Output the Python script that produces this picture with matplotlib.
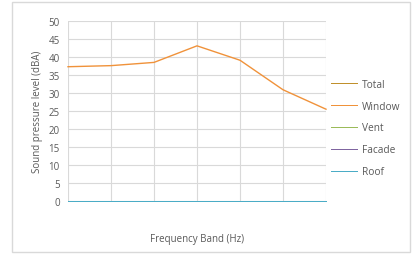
import matplotlib
matplotlib.use("Agg")
import matplotlib.pyplot as plt
from matplotlib.patches import Rectangle

bands = [0, 1, 2, 3, 4, 5, 6]
total = [0, 0, 0, 0, 0, 0, 0]
window = [37.3, 37.6, 38.5, 43.1, 39.1, 30.9, 25.5]
vent = [0, 0, 0, 0, 0, 0, 0]
facade = [0, 0, 0, 0, 0, 0, 0]
roof = [0, 0, 0, 0, 0, 0, 0]
yticks = [0, 5, 10, 15, 20, 25, 30, 35, 40, 45, 50]

plt.rcParams["font.family"] = ["Open Sans", "DejaVu Sans"]
fig = plt.figure(figsize=(4.14, 2.55), dpi=100)
fig.patches.append(Rectangle((12 / 414, 2 / 255), 398 / 414, 250 / 255, transform=fig.transFigure,
                             fill=False, edgecolor="#D9D9D9", linewidth=1))
ax = fig.add_axes([68 / 414, 1 - 202 / 255, 258 / 414, 180 / 255])

series = [("Total", total, "#C0902C"), ("Window", window, "#F0923A"), ("Vent", vent, "#9BBB59"),
          ("Facade", facade, "#7F65A0"), ("Roof", roof, "#4BACC6")]
for i, (name, vals, col) in enumerate(series):
    flat = max(vals) == 0
    ax.plot(bands, vals, color=col, linewidth=0.72 if flat else 1.0, label=name, zorder=3 + i,
            clip_on=False, antialiased=not flat)

ax.set_xlim(0, 6)
ax.set_ylim(0, 50)
ax.set_yticks(yticks)
ax.set_xticks(bands)
ax.set_xticklabels([])
ax.tick_params(length=0, labelsize=7, colors="#595959", pad=6)
ax.grid(True, color="#D9D9D9", linewidth=0.8)
ax.set_axisbelow(True)
for s in ax.spines.values():
    s.set_visible(False)
ax.set_ylabel("Sound pressure level (dBA)", fontsize=7, color="#595959", labelpad=4)
fig.text(197 / 414, 1 - 240 / 255, "Frequency Band (Hz)", fontsize=7, color="#595959",
         ha="center", va="center")

leg = ax.legend(loc="center left", bbox_to_anchor=(1.0, 1 - (129 - 22) / 180), frameon=False, fontsize=7.3,
                labelcolor="#595959", handlelength=2.6, handletextpad=0.5, labelspacing=1.08,
                borderaxespad=0.05)
for h in leg.get_lines():
    h.set_antialiased(False)
    h.set_linewidth(0.72)

fig.savefig("out.png", dpi=100)
